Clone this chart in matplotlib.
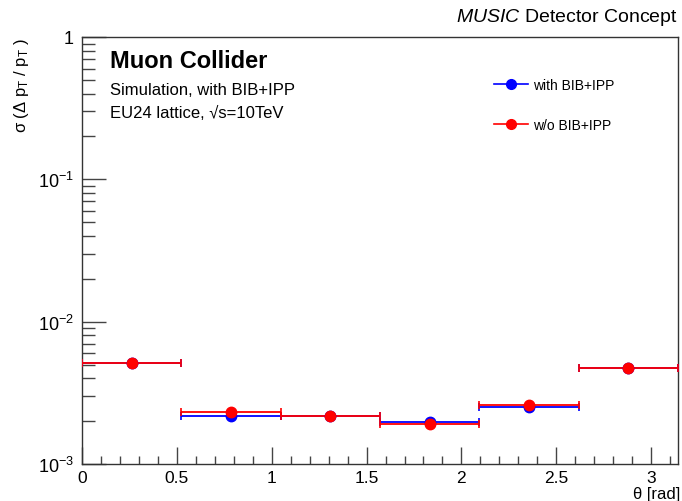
import numpy as np
import matplotlib
matplotlib.use("Agg")
import matplotlib.pyplot as plt
from matplotlib.lines import Line2D
from matplotlib.ticker import FixedLocator, NullFormatter, MultipleLocator, LogLocator

plt.rcParams['font.family'] = ['Liberation Sans', 'DejaVu Sans']
plt.rcParams['mathtext.fontset'] = 'custom'
plt.rcParams['mathtext.rm'] = 'Liberation Sans'
plt.rcParams['mathtext.it'] = 'Liberation Sans:italic'

bin_edges = [0.0, np.pi/6, np.pi/3, np.pi/2, 2*np.pi/3, 5*np.pi/6, np.pi]
with_bib = [5.13e-3, 2.19e-3, 2.17e-3, 1.96e-3, 2.53e-3, 4.76e-3]
without_bib = [5.13e-3, 2.33e-3, 2.18e-3, 1.91e-3, 2.61e-3, 4.74e-3]
labels = ["with BIB+IPP", "w/o BIB+IPP"]
colors = ["#0000ff", "#ff0000"]

edges = np.array(bin_edges)
centers = 0.5 * (edges[:-1] + edges[1:])
halfw = 0.5 * (edges[1:] - edges[:-1])

fig = plt.figure(figsize=(6.82, 5.02), dpi=100)
ax = fig.add_axes([82/682, 1-465/502, (678-82)/682, (465-38)/502])

handles = []
for vals, col, lab in zip([with_bib, without_bib], colors, labels):
    ax.errorbar(centers, vals, xerr=halfw, fmt='o', color=col, ms=7.5,
                elinewidth=1.3, capsize=3, capthick=1.2, zorder=3)
    handles.append(Line2D([], [], color=col, marker='o', ms=7, lw=1.2, label=lab))

ax.set_xlim(0, np.pi)
ax.set_yscale('log')
ax.set_ylim(1e-3, 1)

ax.xaxis.set_major_locator(MultipleLocator(0.5))
ax.xaxis.set_minor_locator(MultipleLocator(0.1))
ax.yaxis.set_major_locator(FixedLocator([1e-3, 1e-2, 1e-1, 1]))
ax.yaxis.set_minor_locator(LogLocator(base=10, subs=np.arange(2, 10)))
ax.yaxis.set_minor_formatter(NullFormatter())
ax.set_yticklabels([r'$10^{-3}$', r'$10^{-2}$', r'$10^{-1}$', '1'])
ax.set_xticks([0, 0.5, 1, 1.5, 2, 2.5, 3])
ax.set_xticklabels(['0', '0.5', '1', '1.5', '2', '2.5', '3'])

ax.tick_params(axis='x', which='major', direction='in', length=12, width=1, labelsize=12.5, pad=4, color='#444444')
ax.tick_params(axis='x', which='minor', direction='in', length=6, width=1, color='#444444')
ax.tick_params(axis='y', which='major', direction='in', length=17, width=1, labelsize=13, pad=6, color='#444444')
ax.tick_params(axis='y', which='minor', direction='in', length=9, width=1, color='#444444')
for s in ax.spines.values():
    s.set_color('#333333')
    s.set_linewidth(1)

fig.text(680/682, 1-495/502, 'θ [rad]', ha='right', va='center', fontsize=12)
fig.text(22/682, 1-38/502, r'σ (Δ p$_{\rm T}$ / p$_{\rm T}$ )', rotation=90,
         ha='center', va='top', fontsize=12)

ax.text(0.047, 0.944, 'Muon Collider', transform=ax.transAxes, fontsize=17, fontweight='bold', va='center')
ax.text(0.047, 0.876, 'Simulation, with BIB+IPP', transform=ax.transAxes, fontsize=12, va='center')
ax.text(0.047, 0.824, 'EU24 lattice, √s=10TeV', transform=ax.transAxes, fontsize=12, va='center')
fig.text(678/682, 1-18/502, r'$\it{MUSIC}$ Detector Concept', ha='right', va='center', fontsize=14)

leg = ax.legend(handles=handles, loc='upper left', bbox_to_anchor=(0.671, 0.934), frameon=False,
                fontsize=10, labelspacing=1.9, handlelength=2.4, handletextpad=0.4)

fig.savefig('out.png', dpi=100)
